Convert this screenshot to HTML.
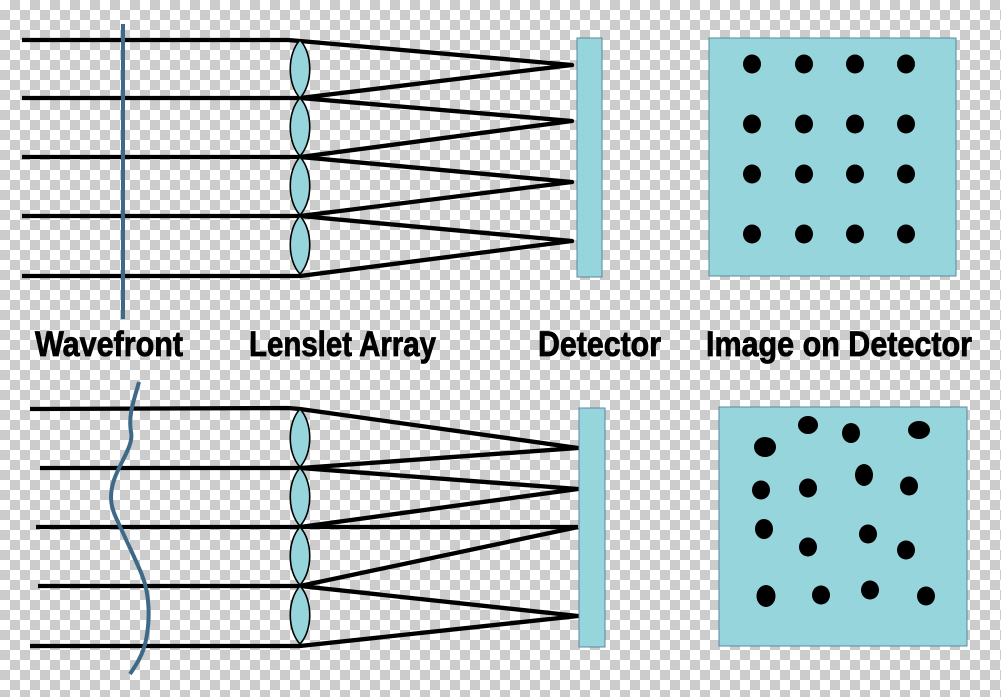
<!DOCTYPE html>
<html><head><meta charset="utf-8"><style>
html,body{margin:0;padding:0}
body{width:1001px;height:697px;overflow:hidden;background-color:#fff;
background-image:linear-gradient(45deg,#ccc 25%,transparent 25%,transparent 75%,#ccc 75%),linear-gradient(45deg,#ccc 25%,transparent 25%,transparent 75%,#ccc 75%);
background-size:20px 20px;background-position:0 0,10px 10px}
svg{display:block}
</style></head><body>
<svg width="1001" height="697" viewBox="0 0 1001 697" xmlns="http://www.w3.org/2000/svg">
<defs>
<g id="lens"><path d="M0 0 C13 14 13 44 0 58 C-13 44 -13 14 0 0Z" fill="#97d5dc" stroke="#000" stroke-width="1.6"/></g>
</defs>
<!-- TOP -->
<g stroke="#000" stroke-width="4.3" fill="none" stroke-linejoin="round">
<polyline points="22,40 288,40 300,41 572,65 300,98 22,98"/>
<polyline points="300,98 572,121 300,157 22,157"/>
<polyline points="300,157 572,182 300,216 22,216"/>
<polyline points="300,216 572,241 300,276 288,276 22,276"/>
</g>
<use href="#lens" x="300" y="40"/><use href="#lens" x="300" y="98"/><use href="#lens" x="300" y="157"/><use href="#lens" x="300" y="216"/>
<line x1="123" y1="24" x2="123" y2="319" stroke="#3e6a87" stroke-width="4"/>
<rect x="577" y="38" width="25" height="239" fill="#97d5dc" stroke="#5a87a0" stroke-width="1"/>
<rect x="709" y="38" width="247" height="238" fill="#97d5dc" stroke="#5a87a0" stroke-width="1"/>
<g fill="#000">
<ellipse cx="752" cy="64" rx="9" ry="9.5"/><ellipse cx="804" cy="64" rx="9" ry="9.5"/><ellipse cx="855" cy="64" rx="9" ry="9.5"/><ellipse cx="906" cy="64" rx="9" ry="9.5"/>
<ellipse cx="752" cy="124" rx="9" ry="9.5"/><ellipse cx="804" cy="124" rx="9" ry="9.5"/><ellipse cx="855" cy="124" rx="9" ry="9.5"/><ellipse cx="906" cy="124" rx="9" ry="9.5"/>
<ellipse cx="752" cy="174" rx="9" ry="9.5"/><ellipse cx="804" cy="174" rx="9" ry="9.5"/><ellipse cx="855" cy="174" rx="9" ry="9.5"/><ellipse cx="906" cy="174" rx="9" ry="9.5"/>
<ellipse cx="752" cy="234" rx="9" ry="9.5"/><ellipse cx="804" cy="234" rx="9" ry="9.5"/><ellipse cx="855" cy="234" rx="9" ry="9.5"/><ellipse cx="906" cy="234" rx="9" ry="9.5"/>
</g>
<!-- LABELS -->
<g font-family="'Liberation Sans Narrow','Liberation Sans',sans-serif" font-weight="bold" font-size="35" fill="#000" stroke="#000" stroke-width="0.8">
<text x="35" y="356" textLength="148" lengthAdjust="spacingAndGlyphs">Wavefront</text>
<text x="249" y="356" textLength="187" lengthAdjust="spacingAndGlyphs">Lenslet Array</text>
<text x="538" y="356" textLength="123" lengthAdjust="spacingAndGlyphs">Detector</text>
<text x="706" y="356" textLength="266" lengthAdjust="spacingAndGlyphs">Image on Detector</text>
</g>
<!-- BOTTOM -->
<g stroke="#000" stroke-width="4.3" fill="none" stroke-linejoin="round">
<polyline points="30,409 288,408 300,409 578,448 300,468 40,468"/>
<polyline points="300,468 578,489 300,527 36,527"/>
<line x1="300" y1="527" x2="578" y2="527"/>
<polyline points="578,527 300,586 38,586"/>
<polyline points="300,586 578,616 300,646 30,646"/>
</g>
<use href="#lens" x="300" y="409"/><use href="#lens" x="300" y="468"/><use href="#lens" x="300" y="527"/><use href="#lens" x="300" y="586"/>
<path d="M139,382 C134,400 128,415 131,432 C134,445 120,462 114,480 C108,498 112,510 118,522 C126,540 136,560 142,575 C150,595 150,620 146,640 C143,655 136,665 130,674" fill="none" stroke="#3e6a87" stroke-width="4"/>
<rect x="579" y="408" width="26" height="239" fill="#97d5dc" stroke="#5a87a0" stroke-width="1"/>
<rect x="719" y="407" width="248" height="239" fill="#97d5dc" stroke="#5a87a0" stroke-width="1"/>
<g fill="#000">
<ellipse cx="765" cy="447" rx="11" ry="10"/><ellipse cx="808" cy="425" rx="10" ry="9"/><ellipse cx="851" cy="433" rx="9" ry="10"/><ellipse cx="919" cy="430" rx="11" ry="9"/>
<ellipse cx="761" cy="490" rx="9" ry="9.5"/><ellipse cx="808" cy="488" rx="9" ry="9.5"/><ellipse cx="864" cy="475" rx="9" ry="11"/><ellipse cx="909" cy="486" rx="9" ry="9.5"/>
<ellipse cx="764" cy="529" rx="9" ry="10"/><ellipse cx="808" cy="547" rx="9" ry="9.5"/><ellipse cx="868" cy="534" rx="9" ry="9.5"/><ellipse cx="906" cy="550" rx="9" ry="9.5"/>
<ellipse cx="766" cy="596" rx="9.5" ry="11"/><ellipse cx="821" cy="595" rx="9" ry="9.5"/><ellipse cx="870" cy="590" rx="9" ry="9.5"/><ellipse cx="926" cy="596" rx="9" ry="9.5"/>
</g>
</svg>
</body></html>
